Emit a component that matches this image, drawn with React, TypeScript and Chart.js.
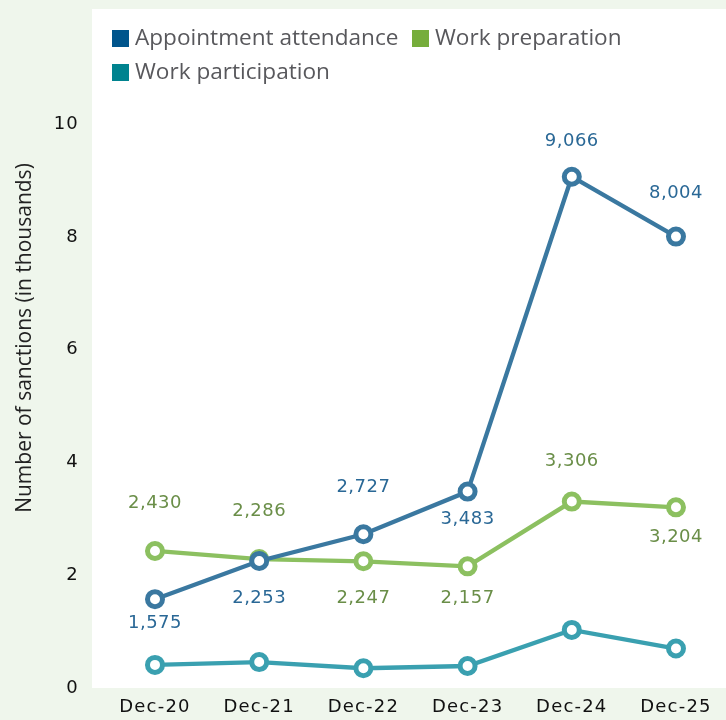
import React, { useEffect, useRef } from "react";
import { Chart, registerables } from "chart.js";

Chart.register(...registerables);

const categories = ["Dec-20", "Dec-21", "Dec-22", "Dec-23", "Dec-24", "Dec-25"];
const appointmentAttendance = [1.575, 2.253, 2.727, 3.483, 9.066, 8.004];
const workPreparation = [2.43, 2.286, 2.247, 2.157, 3.306, 3.204];
const workParticipation = [0.41, 0.46, 0.35, 0.39, 1.03, 0.7];
const appointmentLabels = ["1,575", "2,253", "2,727", "3,483", "9,066", "8,004"];
const preparationLabels = ["2,430", "2,286", "2,247", "2,157", "3,306", "3,204"];
const yTicks = [0, 2, 4, 6, 8, 10];
const seriesNames = ["Appointment attendance", "Work preparation", "Work participation"];

// styling: vertical offsets of value labels relative to their points
const appointmentLabelOffsets = [24, 37, -47, 28, -35, -43];
const preparationLabelOffsets = [-48, -48, 37, 32, -40, 30];

const lineColors = ["#3a78a0", "#8cc060", "#3aa0b0"];
const legendColors = ["#00558c", "#76ad3b", "#00838f"];
const labelColors = ["#2a6896", "#6a8e48"];

const bgPlugin = {
  id: "bgPlugin",
  beforeDraw(chart: any) {
    const { ctx, chartArea: a, width, height } = chart;
    ctx.save();
    ctx.fillStyle = "#eff6ec";
    ctx.fillRect(0, 0, width, height);
    ctx.fillStyle = "#ffffff";
    ctx.fillRect(a.left, a.top, a.right - a.left, a.bottom - a.top);
    ctx.restore();
    (ctx as any).letterSpacing = "1.2px";
  },
};

const labelsPlugin = {
  id: "labelsPlugin",
  afterDatasetsDraw(chart: any) {
    const { ctx } = chart;
    const sets = [
      { idx: 0, labels: appointmentLabels, offs: appointmentLabelOffsets, color: labelColors[0] },
      { idx: 1, labels: preparationLabels, offs: preparationLabelOffsets, color: labelColors[1] },
    ];
    ctx.save();
    ctx.font = "18px 'DejaVu Sans'";
    (ctx as any).letterSpacing = "0.5px";
    ctx.textAlign = "center";
    ctx.textBaseline = "middle";
    sets.forEach((s) => {
      const meta = chart.getDatasetMeta(s.idx);
      ctx.fillStyle = s.color;
      meta.data.forEach((pt: any, i: number) => {
        ctx.fillText(s.labels[i], pt.x, pt.y + s.offs[i]);
      });
    });
    ctx.restore();
  },
  afterDraw(chart: any) {
    const { ctx } = chart;
    ctx.save();
    (ctx as any).letterSpacing = "0px";
    const items = [
      { x: 112, y: 30 },
      { x: 412, y: 30 },
      { x: 112, y: 64 },
    ];
    ctx.font = "22.6px 'Open Sans'";
    ctx.textBaseline = "middle";
    ctx.textAlign = "left";
    items.forEach((it, i) => {
      ctx.fillStyle = legendColors[i];
      ctx.fillRect(it.x, it.y, 17, 17);
      ctx.fillStyle = "#58585c";
      ctx.fillText(seriesNames[i], it.x + 23, it.y + 9);
    });
    ctx.translate(25, 338);
    ctx.rotate(-Math.PI / 2);
    ctx.textAlign = "center";
    ctx.textBaseline = "middle";
    ctx.font = "21px 'Open Sans'";
    ctx.fillStyle = "#222222";
    ctx.fillText("Number of sanctions (in thousands)", 0, 0);
    ctx.restore();
    (ctx as any).letterSpacing = "0px";
  },
};

export default function App() {
  const ref = useRef<HTMLCanvasElement | null>(null);
  useEffect(() => {
    if (!ref.current) return;
    const mk = (arr: number[]) => arr.map((v, i) => ({ x: i, y: v }));
    const ds = (name: string, arr: number[], color: string) => ({
      label: name,
      data: mk(arr),
      borderColor: color,
      backgroundColor: "#ffffff",
      borderWidth: 4.3,
      pointRadius: 7.5,
      pointBorderWidth: 5,
      pointBackgroundColor: "#ffffff",
      pointBorderColor: color,
      tension: 0,
    });
    const chart = new Chart(ref.current, {
      type: "line",
      data: {
        datasets: [
          ds(seriesNames[0], appointmentAttendance, lineColors[0]),
          ds(seriesNames[1], workPreparation, lineColors[1]),
          ds(seriesNames[2], workParticipation, lineColors[2]),
        ],
      },
      options: {
        animation: false,
        responsive: false,
        devicePixelRatio: 1,
        layout: { autoPadding: false, padding: { top: 9, left: 0, right: 0, bottom: 0 } },
        plugins: { legend: { display: false }, tooltip: { enabled: false } },
        scales: {
          x: {
            type: "linear",
            bounds: "data",
            min: -0.6046,
            max: 5.48,
            afterBuildTicks: (s: any) => {
              s.ticks = categories.map((_, i) => ({ value: i }));
            },
            ticks: {
              callback: (v: any) => categories[v] ?? "",
              font: { family: "DejaVu Sans", size: 18 },
              color: "#111111",
              padding: 9,
              maxRotation: 0,
              autoSkip: false,
            },
            grid: { display: false, drawTicks: false },
            border: { display: false },
            afterFit: (s: any) => {
              s.height = 32;
              s.paddingLeft = 0;
              s.paddingRight = 0;
            },
          },
          y: {
            type: "linear",
            bounds: "data",
            min: 0,
            max: 12.04,
            afterBuildTicks: (s: any) => {
              s.ticks = yTicks.map((v) => ({ value: v }));
            },
            ticks: {
              font: { family: "DejaVu Sans", size: 18 },
              color: "#111111",
              padding: 13,
            },
            grid: { display: false, drawTicks: false },
            border: { display: false },
            afterFit: (s: any) => {
              s.width = 92;
              s.paddingTop = 0;
              s.paddingBottom = 0;
            },
          },
        },
      },
      plugins: [bgPlugin, labelsPlugin],
    } as any);
    return () => chart.destroy();
  }, []);
  return (
    <div style={{ position: "fixed", left: 0, top: 0, width: 726, height: 720 }}>
      <canvas ref={ref} width={726} height={720} style={{ display: "block" }} />
    </div>
  );
}
